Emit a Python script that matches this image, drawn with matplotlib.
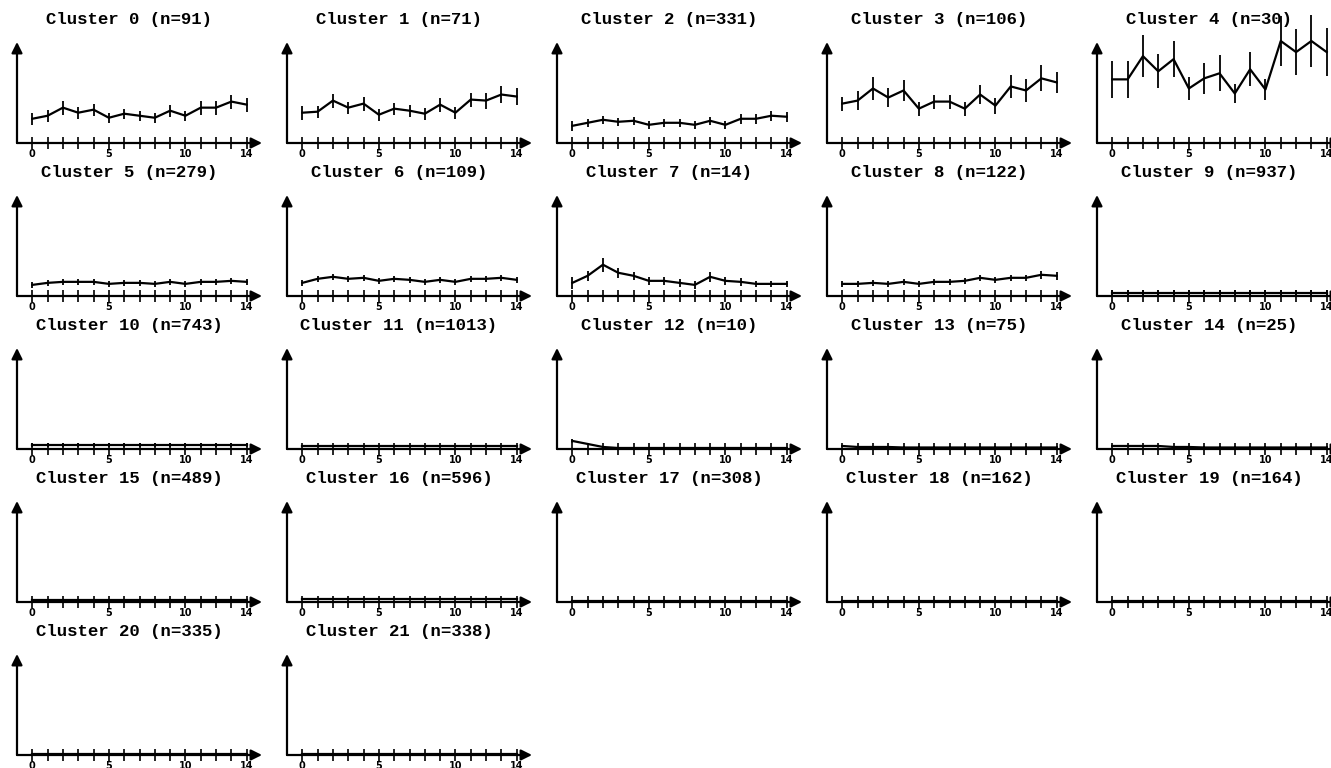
import numpy as np
import matplotlib
matplotlib.use('Agg')
import matplotlib.pyplot as plt

# time points shown on every panel
steps = list(range(15))
tick_labels = {0: '0', 5: '5', 10: '10', 14: '14'}

cluster_n = [91, 71, 331, 106, 30, 279, 109, 14, 122, 937, 743,
             1013, 10, 75, 25, 489, 596, 308, 162, 164, 335, 338]

# mean profile (y axis runs 0..100) and error half-widths
c0_mean = [24, 27, 35, 30, 33, 25, 29, 27, 25, 32, 27, 35, 35, 41, 38]
c0_err = [6, 6, 7, 6, 6, 5, 5, 5, 5, 6, 5, 7, 7, 7, 7]
c1_mean = [30, 31, 42, 35, 39, 28, 34, 32, 29, 38, 30, 43, 42, 48, 46]
c1_err = [7, 6, 7, 6, 7, 6, 6, 6, 6, 7, 6, 7, 8, 8, 8]
c2_mean = [17, 20, 23, 21, 22, 18, 20, 20, 18, 22, 18, 24, 24, 27, 26]
c2_err = [5, 4, 4, 4, 4, 4, 4, 4, 4, 4, 4, 5, 5, 5, 5]
c3_mean = [39, 42, 54, 45, 52, 34, 41, 41, 34, 48, 37, 56, 52, 64, 60]
c3_err = [7, 9, 11, 9, 10, 7, 7, 7, 7, 9, 8, 11, 11, 13, 10]
c4_mean = [63, 63, 86, 71, 83, 54, 64, 69, 49, 73, 53, 101, 90, 101, 90]
c4_err = [18, 18, 21, 17, 18, 11, 15, 18, 9, 17, 10, 25, 23, 26, 24]
c5_mean = [11, 13, 14, 14, 14, 12, 13, 13, 12, 14, 12, 14, 14, 15, 14]
c5_err = [3, 3, 3, 3, 3, 3, 3, 3, 3, 3, 3, 3, 3, 3, 3]
c6_mean = [13, 17, 19, 17, 18, 15, 17, 16, 14, 16, 14, 17, 17, 18, 16]
c6_err = [3, 3, 3, 3, 3, 3, 3, 3, 3, 3, 3, 3, 3, 3, 3]
c7_mean = [13, 20, 31, 23, 20, 15, 15, 13, 11, 19, 15, 14, 12, 12, 12]
c7_err = [6, 5, 7, 5, 4, 4, 4, 4, 4, 5, 4, 4, 3, 3, 3]
c8_mean = [12, 12, 13, 12, 14, 12, 14, 14, 15, 18, 16, 18, 18, 21, 20]
c8_err = [3, 3, 3, 3, 3, 3, 3, 3, 3, 3, 3, 3, 3, 4, 4]
c9_mean = [3, 3, 3, 3, 3, 3, 3, 3, 3, 3, 3, 3, 3, 3, 3]
c9_err = [3, 3, 3, 3, 3, 3, 3, 3, 3, 3, 3, 3, 3, 3, 3]
c10_mean = [4, 4, 4, 4, 4, 4, 4, 4, 4, 4, 4, 4, 4, 4, 4]
c10_err = [2, 2, 2, 2, 2, 2, 2, 2, 2, 2, 2, 2, 2, 2, 2]
c11_mean = [3, 3, 3, 3, 3, 3, 3, 3, 3, 3, 3, 3, 3, 3, 3]
c11_err = [1, 1, 1, 1, 1, 1, 1, 1, 1, 1, 1, 1, 1, 1, 1]
c12_mean = [8, 5, 2, 1, 1, 1, 1, 1, 1, 1, 1, 1, 1, 1, 1]
c12_err = [2, 1, 1, 1, 1, 1, 1, 1, 1, 1, 1, 1, 1, 1, 1]
c13_mean = [3, 2, 2, 2, 1.5, 1.5, 1.5, 1.5, 1.5, 1.5, 1.5, 1.5, 1.5, 1.5, 1.5]
c13_err = [1, 1, 1, 1, 1, 1, 1, 1, 1, 1, 1, 1, 1, 1, 1]
c14_mean = [3, 3, 3, 3, 2, 2, 1.5, 1.5, 1.5, 1.5, 1.5, 1.5, 1.5, 1.5, 1.5]
c14_err = [1, 1, 1, 1, 1, 1, 1, 1, 1, 1, 1, 1, 1, 1, 1]
c15_mean = [2, 2, 2, 2, 2, 2, 2, 2, 2, 2, 2, 2, 2, 2, 2]
c15_err = [1, 1, 1, 1, 1, 1, 1, 1, 1, 1, 1, 1, 1, 1, 1]
c16_mean = [3, 3, 3, 3, 3, 3, 3, 3, 3, 3, 3, 3, 3, 3, 3]
c16_err = [1, 1, 1, 1, 1, 1, 1, 1, 1, 1, 1, 1, 1, 1, 1]
flat_mean = [0.5] * 15   # clusters 17-21 sit on the axis
flat_err = [0.5] * 15

means = [c0_mean, c1_mean, c2_mean, c3_mean, c4_mean, c5_mean, c6_mean, c7_mean,
         c8_mean, c9_mean, c10_mean, c11_mean, c12_mean, c13_mean, c14_mean,
         c15_mean, c16_mean, flat_mean, flat_mean, flat_mean, flat_mean, flat_mean]
errs = [c0_err, c1_err, c2_err, c3_err, c4_err, c5_err, c6_err, c7_err,
        c8_err, c9_err, c10_err, c11_err, c12_err, c13_err, c14_err,
        c15_err, c16_err, flat_err, flat_err, flat_err, flat_err, flat_err]

W, H = 1331, 768
fig = plt.figure(figsize=(W / 100, H / 100), dpi=100)

for i in range(len(cluster_n)):
    row, col = divmod(i, 5)
    left = 17 + 270 * col
    axis_y = 143 + 153 * row
    ax = fig.add_axes([left / W, 1 - axis_y / H, 245 / W, 101 / H])
    ax.set_xlim(-1, 15)
    ax.set_ylim(0, 100)
    for s in ax.spines.values():
        s.set_visible(False)
    ax.patch.set_visible(False)

    ax.errorbar(steps, means[i], yerr=errs[i], color='black', lw=1.6,
                elinewidth=1.3, capsize=0, clip_on=False)

    # axes drawn as arrows
    ax.annotate('', xy=(1, 0), xytext=(0, 0), xycoords='axes fraction',
                arrowprops=dict(arrowstyle='-|>', lw=1.6, color='black',
                                mutation_scale=16, shrinkA=0, shrinkB=0))
    ax.annotate('', xy=(0, 1), xytext=(0, 0), xycoords='axes fraction',
                arrowprops=dict(arrowstyle='-|>', lw=1.6, color='black',
                                mutation_scale=16, shrinkA=0, shrinkB=0))

    ax.set_yticks([])
    ax.set_xticks(steps)
    ax.set_xticklabels([tick_labels.get(s, '') for s in steps])
    ax.tick_params(axis='x', direction='inout', length=8, width=1.2,
                   pad=0, labelsize=7)
    for lab in ax.get_xticklabels():
        lab.set_fontweight('bold')

    ax.text(0.457, 1.22, 'Cluster %d (n=%d)' % (i, cluster_n[i]),
            transform=ax.transAxes, ha='center', va='center',
            family='Liberation Mono', fontweight='bold', fontsize=12.5)

fig.savefig('out.png', dpi=100)
